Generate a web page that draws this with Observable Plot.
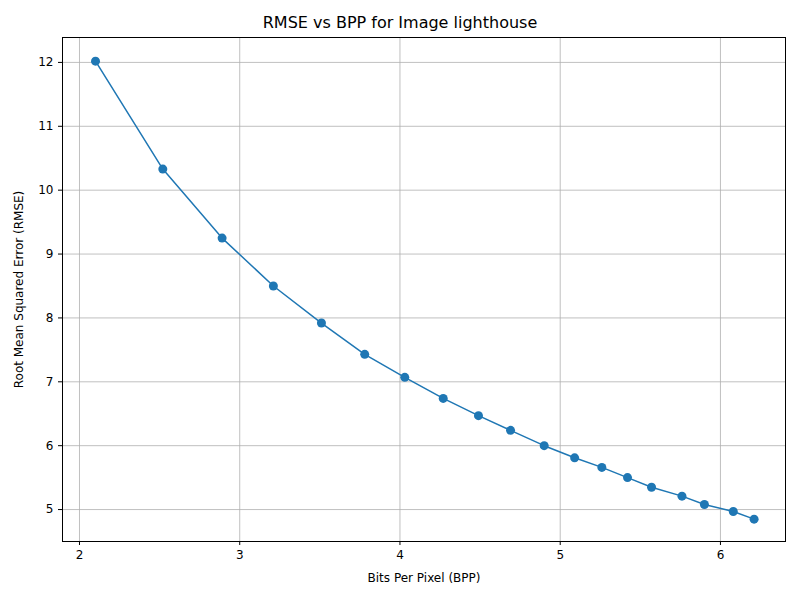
<!DOCTYPE html>
<html><head>
<script src="https://cdn.jsdelivr.net/npm/d3@7"></script>
<script src="https://cdn.jsdelivr.net/npm/@observablehq/plot@0.6"></script>
<style>
body{margin:0;background:#fff;font-family:"DejaVu Sans",sans-serif;}
#title{height:30px;line-height:46px;text-align:center;font-size:16px;color:#000;width:800px;}
</style>
</head><body>
<div id="title">RMSE vs BPP for Image lighthouse</div>
<div id="chart"></div>
<script>
const bpp = [2.10,2.52,2.89,3.21,3.51,3.78,4.03,4.27,4.49,4.69,4.90,5.09,5.26,5.42,5.57,5.76,5.90,6.08,6.21];
const rmse = [12.02,10.33,9.25,8.50,7.92,7.43,7.07,6.74,6.47,6.24,6.00,5.81,5.66,5.50,5.35,5.21,5.08,4.97,4.85];
const xTicks = [2,3,4,5,6];
const yTicks = [5,6,7,8,9,10,11,12];
const data = bpp.map((b,i)=>({bpp:b,rmse:rmse[i]}));
const color = "#1f77b4";
const chart = Plot.plot({
  width:800, height:570,
  marginLeft:62, marginRight:15, marginTop:7, marginBottom:59,
  style:{fontFamily:"DejaVu Sans, sans-serif", fontSize:"12px", color:"#000", background:"#fff"},
  x:{domain:[1.894,6.406], ticks:xTicks, tickFormat:"d", tickSize:4, label:"Bits Per Pixel (BPP)", labelAnchor:"center", labelArrow:"none", labelOffset:40},
  y:{domain:[4.50,12.39], ticks:yTicks, tickFormat:"d", tickSize:4, label:"Root Mean Squared Error (RMSE)", labelAnchor:"center", labelArrow:"none", labelOffset:48},
  marks:[
    Plot.gridX(xTicks,{stroke:"#b0b0b0", strokeOpacity:1, strokeWidth:0.8}),
    Plot.gridY(yTicks,{stroke:"#b0b0b0", strokeOpacity:1, strokeWidth:0.8}),
    Plot.frame({stroke:"#000"}),
    Plot.line(data,{x:"bpp",y:"rmse",stroke:color,strokeWidth:1.5}),
    Plot.dot(data,{x:"bpp",y:"rmse",fill:color,r:4.5})
  ]
});
document.getElementById("chart").appendChild(chart);
</script>
</body></html>
